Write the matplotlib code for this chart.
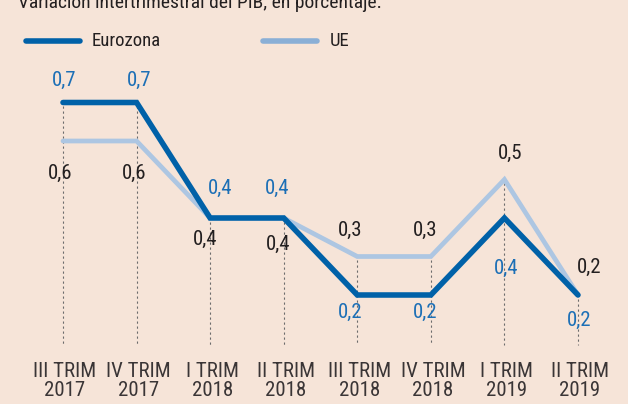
import matplotlib
matplotlib.use("Agg")
import matplotlib.pyplot as plt
from matplotlib import font_manager

quarters = ["III TRIM\n2017", "IV TRIM\n2017", "I TRIM\n2018", "II TRIM\n2018",
            "III TRIM\n2018", "IV TRIM\n2018", "I TRIM\n2019", "II TRIM\n2019"]
eurozona = [0.7, 0.7, 0.4, 0.4, 0.2, 0.2, 0.4, 0.2]
ue = [0.6, 0.6, 0.4, 0.4, 0.3, 0.3, 0.5, 0.2]

# label offsets in pixels (dx, dy), dy positive = down
euro_off = [(1, -22), (3, -22), (10, -30), (-7, -30), (-7, 17), (-6, 17), (2, 50), (1, 25)]
ue_off = [(-3, 32), (-2, 32), (-5, 21), (-6, 26), (-7, -26), (-6, -26), (6, -26), (11, -28)]

names = {f.name for f in font_manager.fontManager.ttflist}
pref = ["Roboto Condensed", "Asap Condensed", "Barlow Condensed", "Archivo Narrow"]
font = next((n for n in pref if n in names), "Roboto")
plt.rcParams["font.family"] = [font, "DejaVu Sans"]

bg = "#f6e4d8"
c_euro = "#0061a8"
c_ue = "#adc6e2"
c_euro_txt = "#1c6fb6"
c_txt = "#231f20"

W, H = 628, 404
fig = plt.figure(figsize=(W / 100, H / 100), dpi=100, facecolor=bg)
ax = fig.add_axes([0, 0, 1, 1])
ax.set_facecolor(bg)
ax.axis("off")

x0, step = 63, 73.57
y0, scale = 372, 385
ax.set_xlim(-x0 / step, (W - x0) / step)
ax.set_ylim((y0 - H) / scale, y0 / scale)

xs = list(range(len(quarters)))
bottom = (y0 - 345) / scale
for i in xs:
    ax.plot([i, i], [max(eurozona[i], ue[i]) - 0.01, bottom], color="#6b6b6b",
            lw=0.8, ls=(0, (2, 2.5)), zorder=1)

ax.plot(xs, ue, color=c_ue, lw=3.4, solid_joinstyle="miter", solid_capstyle="round", zorder=2)
ax.plot(xs, eurozona, color=c_euro, lw=4.0, solid_joinstyle="miter", solid_capstyle="round", zorder=3)

def fmt(v):
    return f"{v:.1f}".replace(".", ",")

for i in xs:
    dx, dy = euro_off[i]
    ax.text(i + dx / step, eurozona[i] - dy / scale, fmt(eurozona[i]), color=c_euro_txt,
            fontsize=15, ha="center", va="center", zorder=4)
    dx, dy = ue_off[i]
    ax.text(i + dx / step, ue[i] - dy / scale, fmt(ue[i]), color=c_txt,
            fontsize=15, ha="center", va="center", zorder=4)
    ax.text(i + 2 / step, (y0 - 381) / scale, quarters[i], color="#3a3536", fontsize=15,
            ha="center", va="center", linespacing=1.02)

# title (cut off at top) and legend
fig.text(18 / W, 1 - 8 / H, "Variación intertrimestral del PIB, en porcentaje.",
         color=c_txt, fontsize=14, ha="left", va="baseline")
fig.add_artist(plt.Line2D([26 / W, 80 / W], [1 - 41 / H] * 2, color=c_euro, lw=4.0,
                          solid_capstyle="round"))
fig.text(92 / W, 1 - 41 / H, "Eurozona", color=c_txt, fontsize=13.5, ha="left", va="center")
fig.add_artist(plt.Line2D([263 / W, 317 / W], [1 - 41 / H] * 2, color="#8aafd6", lw=4.0,
                          solid_capstyle="round"))
fig.text(330 / W, 1 - 41 / H, "UE", color=c_txt, fontsize=13.5, ha="left", va="center")

fig.savefig("out.png", dpi=100, facecolor=bg)
